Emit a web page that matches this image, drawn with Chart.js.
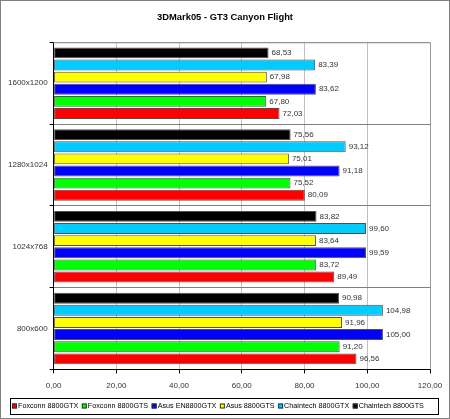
<!DOCTYPE html>
<html>
<head>
<meta charset="utf-8">
<script src="https://cdn.jsdelivr.net/npm/chart.js@4.4.0/dist/chart.umd.min.js"></script>
<style>
  html, body { margin: 0; padding: 0; background: #fff; }
  #wrap { width: 450px; height: 419px; }
</style>
</head>
<body>
<div id="wrap"><canvas id="chartGT3"></canvas></div>
<script>
// resolutions, top to bottom
const resoluciones = ['1600x1200', '1280x1024', '1024x768', '800x600'];

// series, in the order they are stacked inside each group (top first)
const chaintechGTS = [68.53, 75.56, 83.82, 90.98];
const chaintechGTX = [83.39, 93.12, 99.60, 104.98];
const asusGTS = [67.98, 75.01, 83.64, 91.96];
const asusGTX = [83.62, 91.18, 99.59, 105.00];
const foxconnGTS = [67.80, 75.52, 83.72, 91.20];
const foxconnGTX = [72.03, 80.09, 89.49, 96.56];

const xTicks = [0, 20, 40, 60, 80, 100, 120];

const fuente = '"Liberation Sans", Arial, sans-serif';
const coma = (v) => v.toFixed(2).replace('.', ',');

const serie = (label, data, color) => ({
    label: label,
    data: data,
    backgroundColor: color,
    borderColor: '#505050',
    borderWidth: 1,
    borderSkipped: false,
    categoryPercentage: 0.89,
    barPercentage: 0.9,
});

// white background + outer frame + boxed legend (one row) + value labels
const marcoPlugin = {
    id: 'marco',
    beforeDraw(chart) {
        const ctx = chart.ctx;
        ctx.save();
        ctx.fillStyle = '#ffffff';
        ctx.fillRect(0, 0, chart.width, chart.height);
        ctx.strokeStyle = '#7f7f7f';
        ctx.lineWidth = 1;
        ctx.strokeRect(0.5, 0.5, chart.width - 1, chart.height - 1);
        ctx.restore();
    },
    afterDraw(chart) {
        const ctx = chart.ctx;
        ctx.save();

        const a = chart.chartArea;
        ctx.strokeStyle = '#9a9a9a';
        ctx.lineWidth = 1;
        ctx.beginPath();
        ctx.moveTo(a.left, a.top + 0.5);
        ctx.lineTo(a.right + 0.5, a.top + 0.5);
        ctx.lineTo(a.right + 0.5, a.bottom);
        ctx.stroke();

        ctx.font = '8px ' + fuente;
        ctx.fillStyle = '#333333';
        ctx.textBaseline = 'middle';
        ctx.textAlign = 'left';
        chart.data.datasets.forEach((ds, i) => {
            const meta = chart.getDatasetMeta(i);
            meta.data.forEach((bar, j) => {
                ctx.fillText(coma(ds.data[j]), bar.x + 3, bar.y);
            });
        });

        // legend, reversed so Foxconn 8800GTX comes first
        const top = chart.height - 21;
        ctx.strokeStyle = '#000000';
        ctx.strokeRect(10.5, top + 0.5, chart.width - 22, 16);
        ctx.font = '7.2px ' + fuente;
        ctx.textBaseline = 'middle';
        const cy = top + 8.5;
        let x = 12;
        chart.data.datasets.slice().reverse().forEach((ds) => {
            ctx.fillStyle = ds.backgroundColor;
            ctx.fillRect(x, cy - 3, 5, 5);
            ctx.strokeStyle = '#303030';
            ctx.strokeRect(x + 0.5, cy - 2.5, 4, 4);
            ctx.fillStyle = '#000000';
            ctx.fillText(ds.label, x + 6, cy);
            x += 6 + ctx.measureText(ds.label).width + 3.5;
        });
        ctx.restore();
    }
};

new Chart(document.getElementById('chartGT3'), {
    type: 'bar',
    data: {
        labels: resoluciones,
        datasets: [
            serie('Chaintech 8800GTS', chaintechGTS, '#000000'),
            serie('Chaintech 8800GTX', chaintechGTX, '#00ccff'),
            serie('Asus 8800GTS', asusGTS, '#ffff00'),
            serie('Asus EN8800GTX', asusGTX, '#0000ff'),
            serie('Foxconn 8800GTS', foxconnGTS, '#00ff00'),
            serie('Foxconn 8800GTX', foxconnGTX, '#ff0000'),
        ],
    },
    options: {
        indexAxis: 'y',
        responsive: true,
        maintainAspectRatio: false,
        animation: false,
        layout: { padding: { left: 6, right: 6, top: 2, bottom: 20 } },
        scales: {
            x: {
                min: 0,
                max: 120,
                afterBuildTicks: (axis) => { axis.ticks = xTicks.map(v => ({ value: v })); },
                afterFit: (axis) => { axis.paddingRight = 20; },
                ticks: {
                    callback: (v) => coma(v),
                    color: '#333333',
                    font: { size: 8, family: fuente },
                    maxRotation: 0,
                    padding: 8,
                },
                grid: { color: '#c0c0c0', tickColor: '#000000', tickLength: 4, drawTicks: true },
                border: { color: '#000000' },
            },
            y: {
                ticks: {
                    color: '#333333',
                    font: { size: 8, family: fuente },
                    padding: 2,
                },
                grid: { color: '#7f7f7f', offset: true, tickColor: '#000000', tickLength: 4 },
                border: { color: '#000000' },
            },
        },
        plugins: {
            title: {
                display: true,
                text: '3DMark05 - GT3 Canyon Flight',
                color: '#000000',
                font: { size: 9.4, weight: 'bold', family: fuente },
                padding: { top: 10, bottom: 19 },
            },
            legend: { display: false },
            tooltip: { enabled: false },
        },
    },
    plugins: [marcoPlugin],
});
</script>
</body>
</html>
